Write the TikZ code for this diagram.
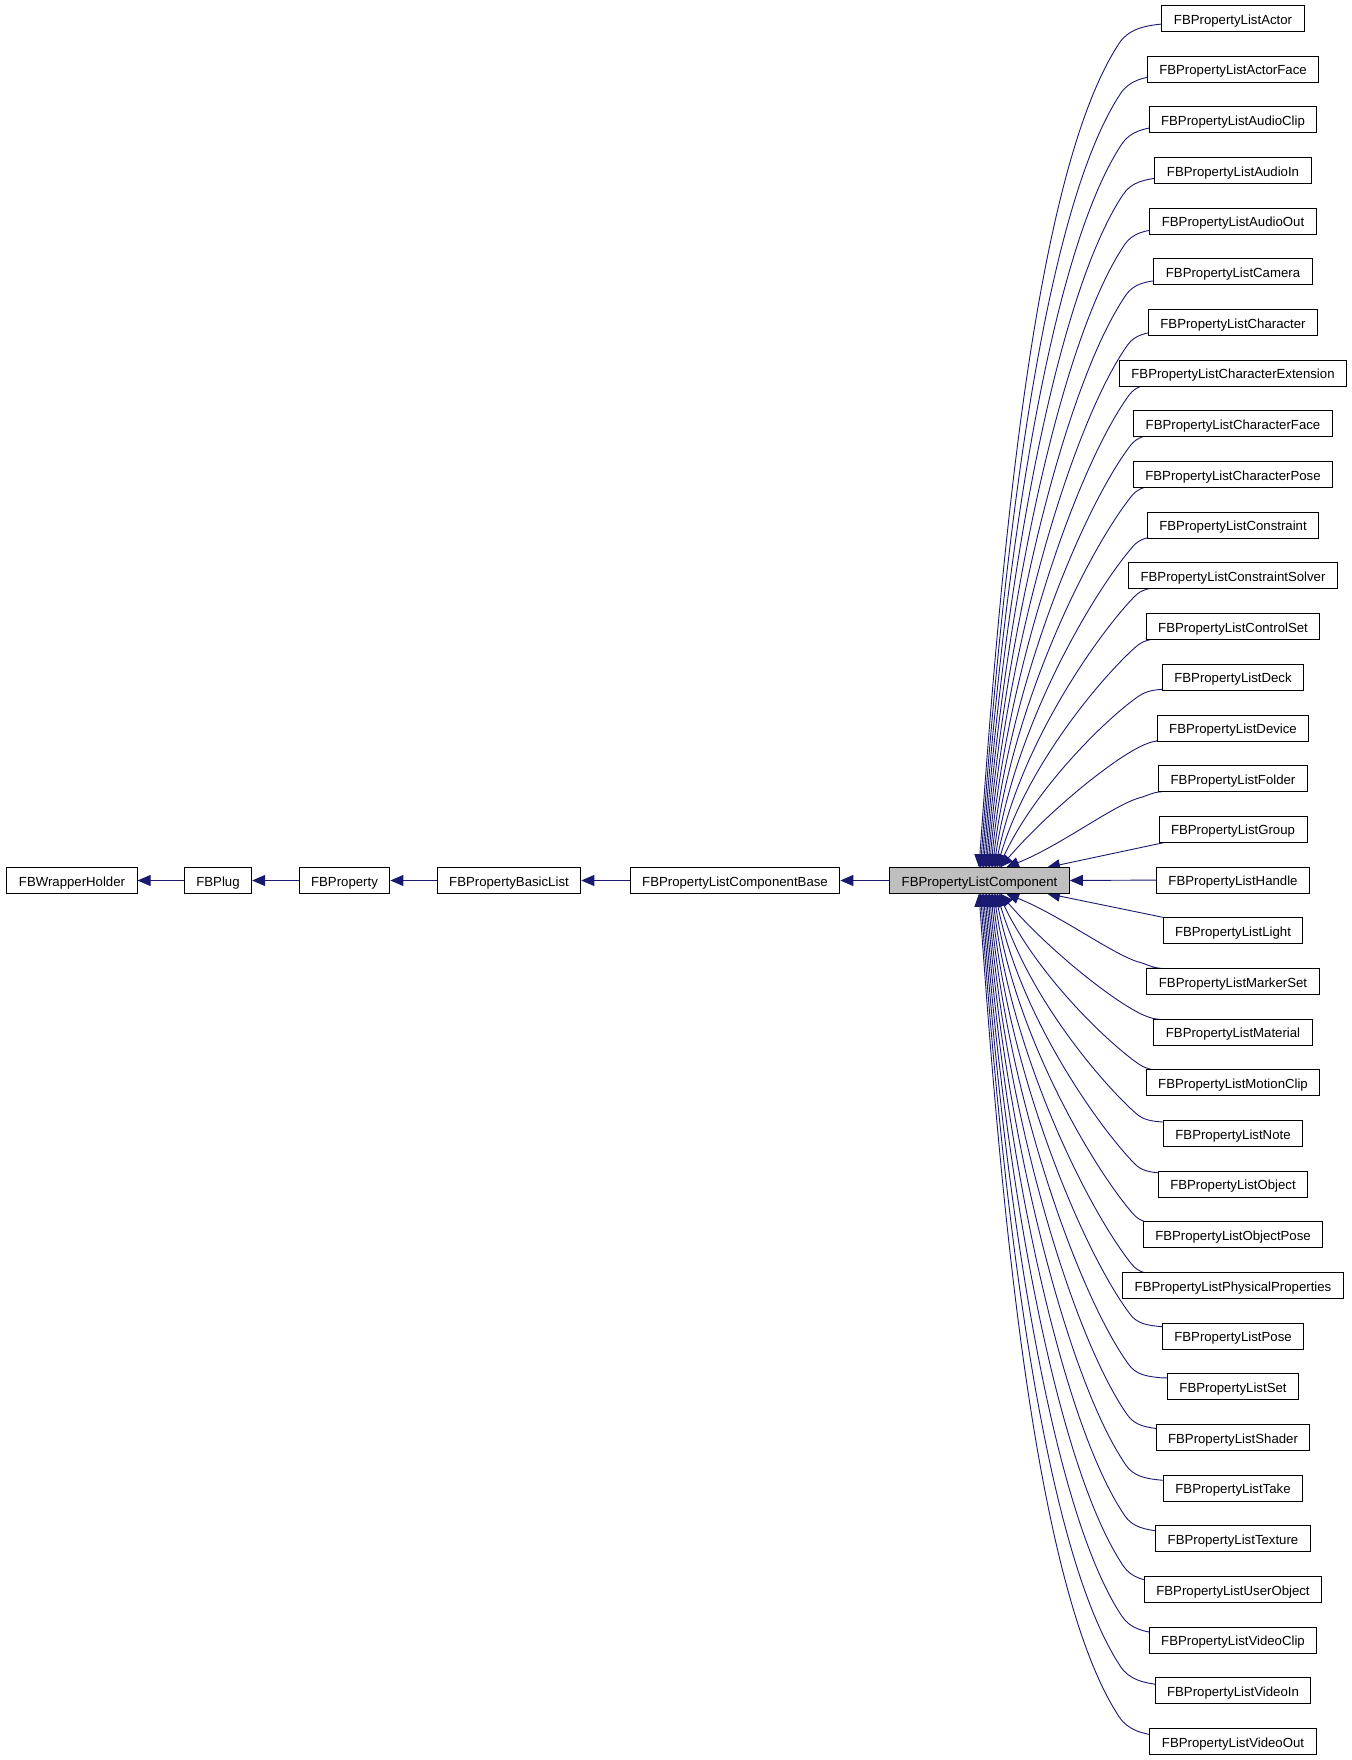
\documentclass[tikz,border=0pt]{standalone}
\usepackage{fontspec}
\setmainfont{Liberation Sans}
\usetikzlibrary{arrows.meta,calc,backgrounds}
\definecolor{edgeblue}{HTML}{191970}
\definecolor{compgray}{HTML}{BFBFBF}
\begin{document}
\begin{tikzpicture}[x=0.5pt,y=-0.5pt,
  box/.style={draw=black,line width=0.5pt,fill=white,minimum height=13pt,inner xsep=6pt,inner ysep=0pt,text height=5.6pt,text depth=0pt,font=\fontsize{6.6pt}{8pt}\selectfont},
  edge/.style={draw=edgeblue,line width=0.45pt,-{Triangle[length=6.5pt,width=5.5pt]}}]
\useasboundingbox (0,0) rectangle (1352,1760);
% main chain
\node[box] (wrapper) at (72,880.5) {FBWrapperHolder};
\node[box] (plug) at (218,880.5) {FBPlug};
\node[box] (prop) at (344.5,880.5) {FBProperty};
\node[box] (basic) at (509,880.5) {FBPropertyBasicList};
\node[box] (base) at (735,880.5) {FBPropertyListComponentBase};
\node[box,fill=compgray] (comp) at (979.5,880.5) {FBPropertyListComponent};
\draw[edge] (plug.west) -- (wrapper.east);
\draw[edge] (prop.west) -- (plug.east);
\draw[edge] (basic.west) -- (prop.east);
\draw[edge] (base.west) -- (basic.east);
\draw[edge] (comp.west) -- (base.east);
% derived classes
\foreach \i/\n in {0/Actor,1/ActorFace,2/AudioClip,3/AudioIn,4/AudioOut,5/Camera,6/Character,7/CharacterExtension,8/CharacterFace,9/CharacterPose,10/Constraint,11/ConstraintSolver,12/ControlSet,13/Deck,14/Device,15/Folder,16/Group,17/Handle,18/Light,19/MarkerSet,20/Material,21/MotionClip,22/Note,23/Object,24/ObjectPose,25/PhysicalProperties,26/Pose,27/Set,28/Shader,29/Take,30/Texture,31/UserObject,32/VideoClip,33/VideoIn,34/VideoOut}
  \node[box] (b\i) at (1233,{18.5+50.68*\i}) {FBPropertyList\n};
\begin{pgfonlayer}{background}
\foreach \i in {0,...,34}{
  \pgfmathtruncatemacro\k{abs(\i-17)}
  \pgfmathsetmacro\s{\i<17 ? 1 : -1}
  \pgfmathsetmacro\y{18.5+50.68*\i}
  \ifnum\k=0
    \draw[edge] (b\i.west) -- (comp.east);
  \else\ifnum\k=1
    \draw[edge] ($(b\i.center)+(-68,\s*13)$) -- ($(comp.center)+(67.5,-\s*13)$);
  \else
    \pgfmathsetmacro\thK{57-42*exp(-(\k-2)/3)}
    \pgfmathsetmacro\thE{86-64*exp(-(\k-2)/1.8)}
    \pgfmathsetmacro\xE{\k==2 ? 1006 : 1000-(\k-3)*1.5}
    \pgfmathsetmacro\Vy{\y+\s*(13-0.5*(\k-2))}
    \pgfmathsetmacro\Kx{1162-(22+1.4*(\k-2))}
    \pgfmathsetmacro\Ky{\Vy+\s*(6+0.9*(\k-2))}
    \pgfmathsetmacro\dxK{1162-\Kx}
    \pgfmathsetmacro\dyK{abs(\Ky-\Vy)}
    \pgfmathsetmacro\LK{sqrt(\dxK*\dxK+\dyK*\dyK)}
    \pgfmathsetmacro\Ey{880.5-13*\s}
    \pgfmathsetmacro\D{(\Kx-\xE)/100}
    \pgfmathsetmacro\H{abs(\Ey-\Ky)/100}
    \pgfmathsetmacro\dist{100*sqrt(\D*\D+\H*\H)}
    \coordinate (V) at (1162,\Vy);
    \coordinate (C1) at ({1162-0.45*\dxK},{\Vy+\s*0.1*\dyK});
    \coordinate (C2) at ({\Kx+0.35*\LK*cos(\thK)},{\Ky-\s*0.35*\LK*sin(\thK)});
    \coordinate (K) at (\Kx,\Ky);
    \coordinate (P1) at ({\Kx-0.18*\dist*cos(\thK)},{\Ky+\s*0.18*\dist*sin(\thK)});
    \coordinate (P2) at ({\xE+0.4*\dist*cos(\thE)},{\Ey-\s*0.4*\dist*sin(\thE)});
    \draw[edge] (b\i.west |- V) -- (V) .. controls (C1) and (C2) .. (K) .. controls (P1) and (P2) .. ($(comp.center)+(\xE-979.5,-13*\s)$);
  \fi\fi
}
\end{pgfonlayer}
\end{tikzpicture}
\end{document}
